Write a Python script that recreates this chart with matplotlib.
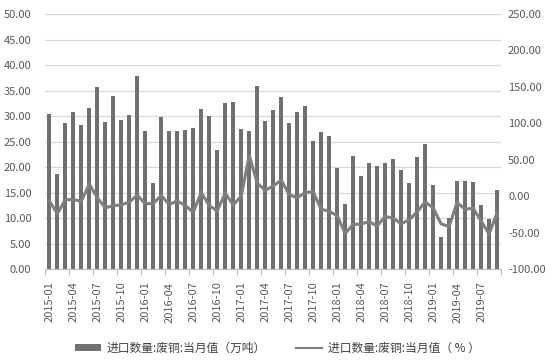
import matplotlib
matplotlib.use("Agg")
import matplotlib.pyplot as plt
from matplotlib.ticker import FixedLocator, MultipleLocator
from matplotlib.lines import Line2D
from matplotlib.patches import Patch
import numpy as np

plt.rcParams['font.family'] = ['Noto Sans CJK SC', 'DejaVu Sans']

months = [f"{y}-{m:02d}" for y in range(2015, 2020) for m in range(1, 13)][:57]

volume = [30.5, 18.7, 28.7, 30.8, 28.3, 31.6, 35.7, 28.9, 34.0, 29.3, 30.3, 37.9,
          27.1, 16.9, 29.9, 27.1, 27.1, 27.3, 27.7, 31.4, 30.1, 23.4, 32.6, 32.8,
          27.5, 27.1, 35.8, 29.1, 31.2, 33.8, 28.7, 30.8, 32.0, 25.2, 26.9, 26.1,
          19.9, 12.8, 22.2, 18.3, 20.8, 20.3, 20.8, 21.6, 19.5, 16.9, 22.0, 24.6,
          16.5, 6.3, 10.1, 17.3, 17.3, 17.1, 12.6, 9.9, 15.4]

yoy = [-6.5, -24, -5, -4.5, -7, 16.5, -2, -16, -13, -12, -8, 1.5,
       -10.5, -10, 1, -11.5, -6.5, -12.8, -22, 5, -13, -20, 4, -12,
       0, 56, 18, 8, 14, 22, 2.3, -2.3, 5, 6, -18, -20.6,
       -27, -51, -39, -38, -35, -41, -28, -30, -38, -32.5, -21.5, -8,
       -16, -38, -41.6, -8.7, -18, -16.5, -34, -52, -23]

label_bar = "进口数量:废铜:当月值（万吨）"
label_line = "进口数量:废铜:当月值（ % ）"

fig = plt.figure(figsize=(5.58, 3.61), dpi=100)
ax = fig.add_axes([0.0812, 0.2548, 0.8168, 0.7062])
ax2 = ax.twinx()

x = np.arange(len(months))
ax.bar(x, volume, width=0.5, color='#707070', zorder=2)
ax2.plot(x, yoy, color='#7f7f7f', lw=2.2, zorder=3, solid_joinstyle='miter')

ax.set_xlim(-0.5, len(months) - 0.5)
ax.set_ylim(0, 50)
ax2.set_ylim(-100, 250)
ax.grid(axis='y', color='#d9d9d9', lw=0.9, zorder=0)
ax.set_axisbelow(True)

tc = '#595959'
ax.set_yticks(np.arange(0, 50.1, 5))
ax.set_yticklabels([f"{v:.2f}" for v in np.arange(0, 50.1, 5)], fontsize=8, color=tc)
ax2.set_yticks(np.arange(-100, 250.1, 50))
ax2.set_yticklabels([f"{v:.2f}" for v in np.arange(-100, 250.1, 50)], fontsize=8, color=tc)
ax.tick_params(axis='y', length=0, pad=10)
ax2.tick_params(axis='y', length=0, pad=5)

ax.set_xticks(x[::3])
ax.set_xticklabels(months[::3], rotation=90, fontsize=8, color=tc)
ax.xaxis.set_minor_locator(FixedLocator(np.arange(-0.5, len(months), 3)))
ax.tick_params(axis='x', which='major', length=0, pad=9)
ax.tick_params(axis='x', which='minor', length=4, color='#bfbfbf', width=0.8)

for a in (ax, ax2):
    for s in ('top', 'left', 'right', 'bottom'):
        a.spines[s].set_visible(False)
ax.spines['bottom'].set_visible(True)
ax.spines['bottom'].set_color('#bfbfbf')
ax.spines['bottom'].set_linewidth(0.8)

h_bar = Patch(facecolor='#707070', edgecolor='none')
h_line = Line2D([], [], color='#7f7f7f', lw=1.5)
leg = fig.legend([h_bar, h_line], [label_bar, label_line], loc='center',
                 bbox_to_anchor=(0.497, 0.036), ncol=2, frameon=False, fontsize=8.5,
                 handlelength=2.2, handleheight=0.5, columnspacing=2.6, handletextpad=0.45)
for t in leg.get_texts():
    t.set_color('#404040')

fig.savefig("out.png", dpi=100)
